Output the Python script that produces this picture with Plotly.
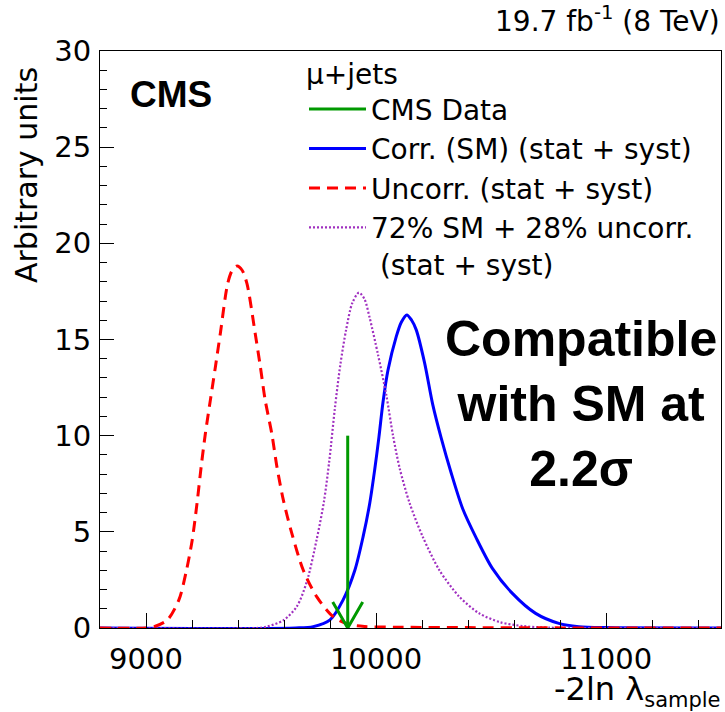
import plotly.graph_objects as go

# ---------------- data ----------------
x_uncorr = [8800, 9000, 9035, 9093, 9143, 9176, 9201, 9222, 9240, 9258, 9280, 9302, 9323,
            9355, 9375, 9396, 9418, 9439, 9475, 9497, 9518, 9547, 9569, 9597, 9634, 9684,
            9742, 9814, 9880, 9950, 10100, 10400, 10700, 11000, 11500]
y_uncorr = [0.0, 0.0, 0.07, 0.42, 1.46, 3.0, 4.58, 6.5, 8.4, 10.1, 11.86, 13.6, 15.3,
            17.9, 18.6, 18.82, 18.6, 17.9, 15.3, 13.6, 11.86, 10.1, 8.4, 6.66, 4.92, 3.0,
            1.63, 0.59, 0.2, 0.08, 0.04, 0.02, 0.01, 0.0, 0.0]

x_mix = [8800, 9480, 9526, 9597, 9655, 9699, 9742, 9774, 9797, 9821, 9845, 9870,
         9897, 9926, 9950, 9973, 10009, 10045, 10074, 10103, 10146, 10203, 10276,
         10362, 10449, 10540, 10640, 10750, 11500]
y_mix = [0.0, 0.0, 0.07, 0.4, 1.1, 2.4, 4.6, 6.6, 8.7, 11.4, 13.7, 15.5,
         16.9, 17.44, 17.1, 16.1, 14.2, 12.1, 10.0, 8.3, 6.5, 4.75, 3.0,
         1.63, 0.76, 0.3, 0.1, 0.02, 0.0]

x_sm = [8800, 9650, 9727, 9800, 9857, 9908, 9944, 9973, 9994, 10013, 10030, 10052, 10088,
        10110, 10134, 10155, 10175, 10211, 10247, 10283, 10326, 10377, 10435, 10506,
        10593, 10694, 10795, 10882, 11000, 11500]
y_sm = [0.0, 0.0, 0.07, 0.42, 1.46, 3.0, 4.75, 6.5, 8.2, 9.95, 11.7, 13.4, 15.15,
        15.9, 16.28, 16.0, 15.5, 13.8, 11.6, 9.9, 8.1, 6.2, 4.7, 3.1,
        1.8, 0.76, 0.24, 0.07, 0.02, 0.0]

data_value = 9877          # observed -2ln lambda in data
data_height = 10           # drawn height of the data arrow

x_ticks = [9000, 10000, 11000]
x_tick_labels = ["9000", "10000", "11000"]
y_ticks = [0, 5, 10, 15, 20, 25, 30]
y_tick_labels = ["0", "5", "10", "15", "20", "25", "30"]

# ---------------- layout geometry ----------------
W, H = 725, 712
L, R, T, B = 100, 4, 51, 84
PW, PH = W - L - R, H - T - B
XR = [8800, 11500]
YR = [0, 30]

def px_x(p):
    return (p - L) / PW

def px_y(p):
    return (H - B - p) / PH

# arrow-head size, in data units derived from pixels
arm_dx = 15 * (XR[1] - XR[0]) / PW
arm_dy = 26 * (YR[1] - YR[0]) / PH

FONT = "DejaVu Sans"
BOLD = "Liberation Sans"

fig = go.Figure()

fig.add_trace(go.Scatter(
    x=x_sm, y=y_sm, mode="lines", name="Corr. (SM) (stat + syst)",
    line=dict(color="#0000ff", width=3, shape="spline", smoothing=0.8), legendrank=2))
fig.add_trace(go.Scatter(
    x=x_mix, y=y_mix, mode="lines",
    name="72% SM + 28% uncorr.<br> (stat + syst)",
    line=dict(color="#a030c0", width=2.2, dash="2px,2px", shape="spline", smoothing=0.8),
    legendrank=4))
fig.add_trace(go.Scatter(
    x=x_uncorr, y=y_uncorr, mode="lines", name="Uncorr. (stat + syst)",
    line=dict(color="#ff0000", width=3, dash="11px,7px", shape="spline", smoothing=0.8),
    legendrank=3))
fig.add_trace(go.Scatter(
    x=[data_value, data_value, None, data_value - arm_dx, data_value, data_value + arm_dx],
    y=[data_height, 0, None, arm_dy, 0, arm_dy],
    mode="lines", name="CMS Data",
    line=dict(color="#009900", width=3), legendrank=1))

axis_common = dict(
    showgrid=False, zeroline=False, showline=True, linecolor="black", linewidth=1,
    mirror=True, ticks="inside", tickcolor="black", tickwidth=1,
    tickfont=dict(family=FONT, size=29, color="black"),
)

fig.update_xaxes(
    range=XR, tickvals=x_ticks, ticktext=x_tick_labels, ticklen=15, ticklabelstandoff=5,
    minor=dict(dtick=200, tick0=0, ticks="inside", ticklen=8, tickcolor="black", tickwidth=1),
    **axis_common)
fig.update_yaxes(
    range=YR, tickvals=y_ticks, ticktext=y_tick_labels, ticklen=14, ticklabelstandoff=2,
    minor=dict(dtick=1, tick0=0, ticks="inside", ticklen=7, tickcolor="black", tickwidth=1),
    **axis_common)

annotations = [
    dict(text="19.7 fb<sup>-1</sup> (8 TeV)", x=px_x(722), y=px_y(40),
         xanchor="right", yanchor="bottom",
         font=dict(family=FONT, size=28, color="black")),
    dict(text="Arbitrary units", textangle=-90, x=px_x(27), y=px_y(175),
         xanchor="center", yanchor="middle",
         font=dict(family=FONT, size=30, color="black")),
    dict(text="-2ln λ<sub><span style='font-size:21px'>sample</span></sub>",
         x=px_x(723), y=px_y(714),
         xanchor="right", yanchor="bottom",
         font=dict(family=FONT, size=32, color="black")),
    dict(text="<b>CMS</b>", x=px_x(171), y=px_y(94),
         xanchor="center", yanchor="middle",
         font=dict(family=BOLD, size=37, color="black")),
    dict(text="<b>Compatible<br>with SM at<br>2.2σ</b>", x=px_x(581), y=px_y(404),
         xanchor="center", yanchor="middle", align="center",
         font=dict(family=BOLD, size=50, color="black")),
]
for a in annotations:
    a.update(xref="paper", yref="paper", showarrow=False)

fig.update_layout(
    width=W, height=H,
    margin=dict(l=L, r=R, t=T, b=B, pad=0),
    paper_bgcolor="white", plot_bgcolor="white",
    annotations=annotations,
    legend=dict(
        x=px_x(304), y=px_y(48), xanchor="left", yanchor="top",
        title=dict(text="μ+jets", font=dict(family=FONT, size=28, color="black")),
        font=dict(family=FONT, size=28, color="black"),
        bgcolor="rgba(0,0,0,0)", borderwidth=0, tracegroupgap=0,
        valign="top", itemwidth=57,
    ),
)

fig.write_html("out.html")
